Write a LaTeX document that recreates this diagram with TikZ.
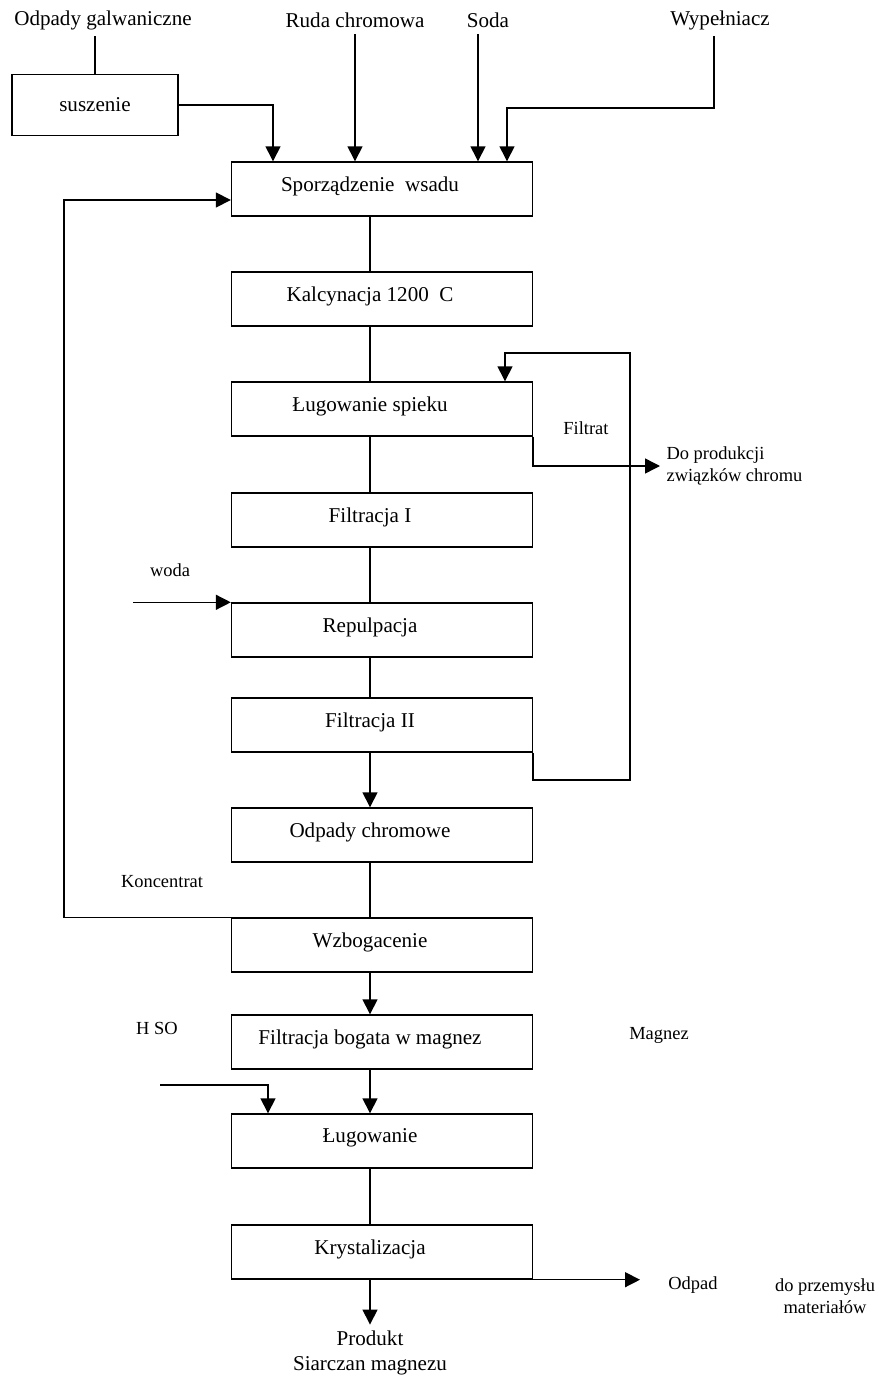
\documentclass[tikz,border=0pt]{standalone}
\usepackage{fontspec}
\setmainfont{Liberation Serif}
\usetikzlibrary{arrows.meta}
\begin{document}
\begin{tikzpicture}[x=0.02cm, y=-0.02cm, font=\fontsize{12}{14}\selectfont, line width=0.8pt,
  box/.style={draw, minimum width=6.02cm, minimum height=1.08cm, inner sep=0pt},
  lbl/.style={font=\fontsize{10.5}{12.5}\selectfont},
  flow/.style={-{Triangle[length=8.5pt, width=8.5pt]}}]
\useasboundingbox (0,0) rectangle (881,1378);
\foreach \nm/\y/\txt in {spo/189/{Sporządzenie\ \ wsadu}, kal/299/{Kalcynacja 1200\enspace C}, lsp/409/{Ługowanie spieku}, fi/520/{Filtracja I}, rep/630/{Repulpacja}, fii/725/{Filtracja II}, odp/835/{Odpady chromowe}, wzb/945/{Wzbogacenie}, fbm/1042/{Filtracja bogata w magnez}, lug/1141/{Ługowanie}, kry/1252/{Krystalizacja}} {
  \node[box, label={[xshift=-0.24cm, yshift=0.06cm]center:\txt}] (\nm) at (382,\y) {};
}
\coordinate (mid) at (370,0);
\foreach \a/\b in {spo/kal, kal/lsp, lsp/fi, fi/rep, rep/fii, odp/wzb, lug/kry} {\draw (\a.south -| mid) -- (\b.north -| mid);}
\foreach \a/\b in {fii/odp, wzb/fbm, fbm/lug} {\draw[flow] (\a.south -| mid) -- (\b.north -| mid);}
\node[align=center] (prod) at (370,1353) {Produkt\\Siarczan magnezu};
\draw[flow] (kry.south -| mid) -- (prod.north -| mid);
\node (og) at (103,20) {Odpady galwaniczne};
\node (rc) at (355,20) {Ruda chromowa};
\node (so) at (488,20) {Soda};
\node (wy) at (720,20) {Wypełniacz};
\node[box, minimum width=3.32cm, minimum height=1.22cm] (sus) at (95,105) {suszenie};
\coordinate (susx) at (273,0);
\coordinate (sodax) at (478,0);
\coordinate (wyk) at (714,108);
\coordinate (wyx) at (507,0);
\draw (og.south -| sus.north) -- (sus.north);
\draw[flow] (sus.east) -| (spo.north -| susx);
\draw[flow] (rc.south) -- (rc.south |- spo.north);
\draw[flow] (so.south -| sodax) -- (spo.north -| sodax);
\draw[flow] (wy.south -| wyk) -- (wyk) -| (spo.north -| wyx);
\coordinate (kon) at (64,0);
\coordinate (spoin) at (0,200);
\draw[flow] (wzb.north west) -| (kon |- spoin) -- (spo.west |- spoin);
\node[lbl] (konc) at (162,882) {Koncentrat};
\coordinate (rb) at (630,780);
\coordinate (rt) at (630,353);
\coordinate (rin) at (505,0);
\draw[flow] (fii.south east) |- (rb) -- (rt) -| (lsp.north -| rin);
\node[lbl] (filtrat) at (586,428) {Filtrat};
\node[lbl, anchor=west, align=left] (dp) at (660,466) {Do produkcji\\związków chromu};
\draw[flow] (lsp.south east) |- (dp.west);
\node[lbl] (woda) at (170,570) {woda};
\coordinate (wodain) at (133,603);
\draw[flow] (wodain |- rep.north west) -- (rep.north west);
\node[lbl] (magnez) at (659,1035) {Magnez};
\node[lbl] (hso) at (157,1028) {H SO};
\coordinate (hin) at (160,1085);
\coordinate (hx) at (268,0);
\draw[flow] (hin) -| (lug.north -| hx);
\coordinate (oend) at (640,1279);
\draw[flow] (kry.south east) -- (kry.south east -| oend);
\node[lbl] (odpad) at (693,1285) {Odpad};
\node[lbl, align=center] (przem) at (825,1296) {do przemysłu\\materiałów};
\end{tikzpicture}
\end{document}
